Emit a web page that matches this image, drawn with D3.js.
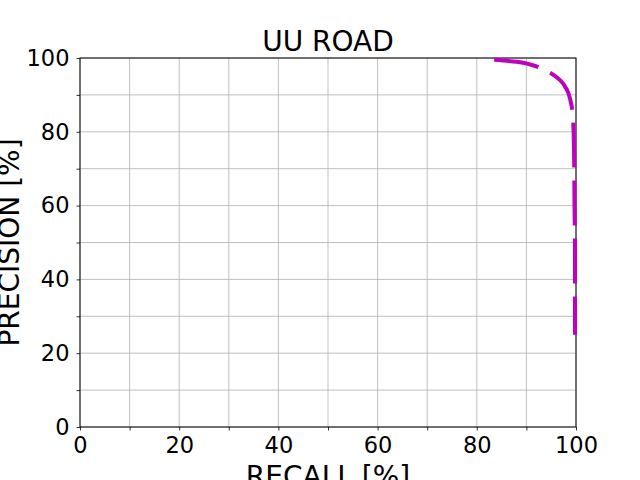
<!DOCTYPE html>
<html>
<head>
<meta charset="utf-8">
<script src="https://cdn.jsdelivr.net/npm/d3@7"></script>
<style>
  body { margin: 0; background: #fff; }
  svg { font-family: "DejaVu Sans", sans-serif; }
</style>
</head>
<body>
<script>
// recall / precision values
var recall    = [83.5, 88.0, 91.1, 93.8, 96.8, 98.2, 99.0, 99.4, 99.6, 99.7, 99.8, 99.8];
var precision = [99.5, 99.0, 98.1, 96.7, 94.0, 91.3, 87.8, 83.2, 75.1, 60.0, 48.0, 25.0];
var majorTicks = [0, 20, 40, 60, 80, 100];
var minorTicks = [10, 30, 50, 70, 90];

var margin = {top: 58, right: 64, bottom: 53, left: 80};
var width = 640, height = 480;
var w = width - margin.left - margin.right,
    h = height - margin.top - margin.bottom;

var svg = d3.select("body").append("svg")
  .attr("width", width).attr("height", height);

var g = svg.append("g")
  .attr("transform", "translate(" + margin.left + "," + margin.top + ")");

var x = d3.scaleLinear().domain([0, 100]).range([0, w]);
var y = d3.scaleLinear().domain([0, 100]).range([h, 0]);

// grid, every 10
var gridVals = majorTicks.concat(minorTicks);
g.selectAll(".gx").data(gridVals).enter().append("line")
  .attr("x1", d => x(d)).attr("x2", d => x(d))
  .attr("y1", 0).attr("y2", h)
  .attr("stroke", "#b0b0b0").attr("stroke-width", 0.8);
g.selectAll(".gy").data(gridVals).enter().append("line")
  .attr("y1", d => y(d)).attr("y2", d => y(d))
  .attr("x1", 0).attr("x2", w)
  .attr("stroke", "#b0b0b0").attr("stroke-width", 0.8);

// axes
var xAxis = g.append("g").attr("transform", "translate(0," + h + ")")
  .call(d3.axisBottom(x).tickValues(majorTicks).tickSize(3.5).tickPadding(7));
var xMinor = g.append("g").attr("transform", "translate(0," + h + ")")
  .call(d3.axisBottom(x).tickValues(minorTicks).tickSize(3.5).tickFormat(""));
var yAxis = g.append("g")
  .call(d3.axisLeft(y).tickValues(majorTicks).tickSize(3.5).tickPadding(7));
var yMinor = g.append("g")
  .call(d3.axisLeft(y).tickValues(minorTicks).tickSize(3.5).tickFormat(""));

[xAxis, xMinor, yAxis, yMinor].forEach(function(a) {
  a.select(".domain").remove();
  a.selectAll("line").attr("stroke", "#000").attr("stroke-width", 0.8);
  a.selectAll("text").attr("font-size", "22.5px").attr("fill", "#000")
    .attr("font-family", "DejaVu Sans");
});

// frame
g.append("rect").attr("width", w).attr("height", h)
  .attr("fill", "none").attr("stroke", "#000").attr("stroke-width", 1);

// curve
var line = d3.line()
  .x((d, i) => x(recall[i]))
  .y((d, i) => y(precision[i]))
  .curve(d3.curveMonotoneY);

g.append("path")
  .datum(recall)
  .attr("d", line)
  .attr("fill", "none")
  .attr("stroke", "#bf00bf")
  .attr("stroke-width", 4)
  .attr("stroke-dasharray", "45,13");

// title & labels
svg.append("text")
  .attr("x", margin.left + w / 2).attr("y", 51)
  .attr("text-anchor", "middle").attr("font-size", "28px")
  .text("UU ROAD");

svg.append("text")
  .attr("x", margin.left + w / 2).attr("y", 486)
  .attr("text-anchor", "middle").attr("font-size", "28px")
  .text("RECALL [%]");

svg.append("text")
  .attr("transform", "translate(19," + (margin.top + h / 2) + ") rotate(-90)")
  .attr("text-anchor", "middle").attr("font-size", "28px")
  .text("PRECISION [%]");
</script>
</body>
</html>
